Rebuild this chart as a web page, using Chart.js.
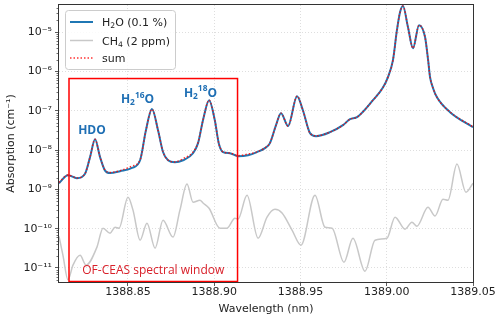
<!DOCTYPE html>
<html>
<head>
<meta charset="utf-8">
<script src="https://cdn.jsdelivr.net/npm/chart.js@4.4.1/dist/chart.umd.min.js"></script>
<style>
  html, body { margin: 0; padding: 0; background: #fff; }
</style>
</head>
<body>
<canvas id="grafica" width="500" height="319"></canvas>
<script>
// Datos
const h2oWl = [
  1388.8100, 1388.8152, 1388.8204, 1388.8251, 1388.8280, 1388.8309, 1388.8338, 1388.8367,
  1388.8396, 1388.8454, 1388.8523, 1388.8570, 1388.8604, 1388.8639, 1388.8674, 1388.8703,
  1388.8732, 1388.8772, 1388.8819, 1388.8877, 1388.8906, 1388.8935, 1388.8970, 1388.9003,
  1388.9026, 1388.9051, 1388.9091, 1388.9138, 1388.9196, 1388.9248, 1388.9294, 1388.9323,
  1388.9358, 1388.9387, 1388.9428, 1388.9480, 1388.9514, 1388.9555, 1388.9590, 1388.9671,
  1388.9746, 1388.9787, 1388.9828, 1388.9920, 1388.9978, 1389.0007, 1389.0036, 1389.0059,
  1389.0077, 1389.0094, 1389.0123, 1389.0152, 1389.0187, 1389.0222, 1389.0240, 1389.0251,
  1389.0268, 1389.0291, 1389.0367, 1389.0500
];
const h2oVals = [
  1.44e-9, 2.3e-9, 1.93e-9, 2.5e-9, 6.6e-9, 1.89e-8, 6.6e-9, 3.0e-9,
  2.6e-9, 2.9e-9, 3.5e-9, 5.5e-9, 3.2e-8, 1.1e-7, 3.2e-8, 8.9e-9,
  5.5e-9, 4.9e-9, 5.5e-9, 8.3e-9, 1.5e-8, 5.8e-8, 1.86e-7, 5.8e-8,
  1.5e-8, 8.9e-9, 8.3e-9, 7.0e-9, 7.4e-9, 8.9e-9, 1.12e-8, 1.5e-8,
  4.3e-8, 8.7e-8, 4.1e-8, 2.35e-7, 1.03e-7, 2.7e-8, 2.26e-8, 2.85e-8,
  4.3e-8, 6.1e-8, 6.9e-8, 1.86e-7, 3.9e-7, 7.2e-7, 1.94e-6, 1.12e-5,
  3.2e-5, 4.6e-5, 1.34e-5, 3.9e-6, 1.5e-5, 7.5e-6, 1.9e-6, 7.2e-7,
  3.8e-7, 2.2e-7, 9.2e-8, 3.8e-8
];
const sumVals = [
  1.5e-9, 2.32e-9, 1.95e-9, 2.52e-9, 6.6e-9, 1.89e-8, 6.6e-9, 3.1e-9,
  2.7e-9, 3.0e-9, 3.9e-9, 5.6e-9, 3.2e-8, 1.1e-7, 3.2e-8, 9.0e-9,
  5.6e-9, 5.0e-9, 6.0e-9, 8.9e-9, 1.55e-8, 5.8e-8, 1.86e-7, 5.8e-8,
  1.5e-8, 9.0e-9, 8.4e-9, 7.2e-9, 7.9e-9, 9.0e-9, 1.14e-8, 1.53e-8,
  4.3e-8, 8.7e-8, 4.1e-8, 2.35e-7, 1.03e-7, 2.7e-8, 2.3e-8, 2.86e-8,
  4.3e-8, 6.1e-8, 6.9e-8, 1.86e-7, 3.9e-7, 7.2e-7, 1.94e-6, 1.12e-5,
  3.2e-5, 4.6e-5, 1.34e-5, 3.9e-6, 1.5e-5, 7.5e-6, 1.9e-6, 7.2e-7,
  3.8e-7, 2.2e-7, 9.3e-8, 3.9e-8
];

const ch4Wl = [
  1388.8100, 1388.8123, 1388.8152, 1388.8181, 1388.8222, 1388.8257, 1388.8320, 1388.8355,
  1388.8396, 1388.8425, 1388.8448, 1388.8500, 1388.8529, 1388.8570, 1388.8610, 1388.8657,
  1388.8703, 1388.8761, 1388.8801, 1388.8842, 1388.8877, 1388.8917, 1388.8935, 1388.8970,
  1388.9033, 1388.9074, 1388.9120, 1388.9138, 1388.9190, 1388.9254, 1388.9306, 1388.9352,
  1388.9393, 1388.9451, 1388.9503, 1388.9584, 1388.9642, 1388.9683, 1388.9752, 1388.9804,
  1388.9874, 1388.9932, 1389.0001, 1389.0048, 1389.0106, 1389.0146, 1389.0175, 1389.0239,
  1389.0280, 1389.0326, 1389.0355, 1389.0407, 1389.0459, 1389.0500
];
const ch4Vals = [
  6.4e-11, 2.1e-11, 5.0e-12, 1.18e-11, 2.1e-11, 1.18e-11, 3.4e-11, 1.03e-10,
  7.7e-11, 1.09e-10, 1.03e-10, 6.3e-10, 2.96e-10, 5.1e-11, 1.38e-10, 3.2e-11,
  1.64e-10, 6.1e-11, 2.96e-10, 1.36e-9, 4.7e-10, 5.3e-10, 4.5e-10, 3.3e-10,
  1.03e-10, 1.03e-10, 1.85e-10, 1.75e-10, 7.1e-10, 5.7e-11, 1.96e-10, 3.1e-10,
  2.5e-10, 9.2e-11, 3.8e-11, 7.1e-10, 1.09e-10, 1.03e-10, 1.4e-11, 5.7e-11,
  8.3e-12, 5.1e-11, 5.7e-11, 1.96e-10, 9.7e-11, 1.46e-10, 1.16e-10, 3.5e-10,
  2.1e-10, 5.6e-10, 5.3e-10, 4.4e-9, 8.5e-10, 1.44e-9
];

const xTicks = [1388.85, 1388.90, 1388.95, 1389.00, 1389.05];
const yTicks = [1e-11, 1e-10, 1e-9, 1e-8, 1e-7, 1e-6, 1e-5];

// ventana espectral OF-CEAS
const windowStart = 1388.8158;
const windowEnd = 1388.9135;
const windowTop = 6.6e-7;

// etiquetas de picos
const peakLabels = [
  [{ t: "HDO" }],
  [{ t: "H" }, { t: "2", sub: true }, { t: "16", sup: true }, { t: "O" }],
  [{ t: "H" }, { t: "2", sub: true }, { t: "18", sup: true }, { t: "O" }]
];
const peakLabelX = [1388.8291, 1388.8555, 1388.8920];
const peakLabelY = [2.6e-8, 1.6e-7, 2.3e-7];

const legendLabels = [
  [{ t: "H" }, { t: "2", sub: true }, { t: "O (0.1 %)" }],
  [{ t: "CH" }, { t: "4", sub: true }, { t: " (2 ppm)" }],
  [{ t: "sum" }]
];

const azul = "#1f77b4";
const gris = "#c8c8c8";
const rojo = "rgba(255, 0, 0, 0.8)";

const supMap = { "-": "\u207b", "0": "\u2070", "1": "\u00b9", "2": "\u00b2", "3": "\u00b3",
  "4": "\u2074", "5": "\u2075", "6": "\u2076", "7": "\u2077", "8": "\u2078", "9": "\u2079" };

function pares(xs, ys) {
  return xs.map((x, i) => ({ x: x, y: ys[i] }));
}

/* texto con sub/superíndices */
function medirRich(ctx, segs, size, family, weight) {
  let w = 0;
  segs.forEach(s => {
    const fs = (s.sub || s.sup) ? size * 0.7 : size;
    ctx.font = weight + " " + fs + "px " + family;
    w += ctx.measureText(s.t).width;
  });
  return w;
}

function dibujarRich(ctx, segs, x, y, size, family, weight, color, align) {
  let cx = x;
  if (align === "center") cx = x - medirRich(ctx, segs, size, family, weight) / 2;
  ctx.fillStyle = color;
  ctx.textBaseline = "alphabetic";
  ctx.textAlign = "left";
  segs.forEach(s => {
    const fs = (s.sub || s.sup) ? size * 0.7 : size;
    ctx.font = weight + " " + fs + "px " + family;
    let dy = 0;
    if (s.sub) dy = size * 0.22;
    if (s.sup) dy = -size * 0.42;
    ctx.fillText(s.t, cx, y + dy);
    cx += ctx.measureText(s.t).width;
  });
}

const extras = {
  id: "extras",
  afterDatasetsDraw(chart) {
    const ctx = chart.ctx;
    const xs = chart.scales.x;
    const ys = chart.scales.y;
    const area = chart.chartArea;

    // rectángulo rojo
    const x1 = xs.getPixelForValue(windowStart);
    const x2 = xs.getPixelForValue(windowEnd);
    const y1 = ys.getPixelForValue(windowTop);
    ctx.save();
    ctx.strokeStyle = "#ff0000";
    ctx.lineWidth = 1.5;
    ctx.strokeRect(x1, y1, x2 - x1, area.bottom - 0.5 - y1);

    ctx.font = "12px 'Open Sans'";
    ctx.fillStyle = "#d9202a";
    ctx.textAlign = "center";
    ctx.textBaseline = "alphabetic";
    ctx.fillText("OF-CEAS spectral window", (x1 + x2) / 2, area.bottom - 8);

    // etiquetas de picos
    peakLabels.forEach((segs, i) => {
      const px = xs.getPixelForValue(peakLabelX[i]);
      const py = ys.getPixelForValue(peakLabelY[i]);
      dibujarRich(ctx, segs, px, py, 12, "'Open Sans'", "bold", "#1f6fb4", "center");
    });
    ctx.restore();
  },
  afterDraw(chart) {
    const ctx = chart.ctx;
    const ys = chart.scales.y;
    const area = chart.chartArea;
    ctx.save();

    // marco
    ctx.strokeStyle = "#333";
    ctx.lineWidth = 1;
    ctx.strokeRect(area.left - 0.5, area.top - 0.5, area.right - area.left + 1, area.bottom - area.top + 1);

    // ticks menores del eje y
    ctx.lineWidth = 0.7;
    for (let n = -12; n <= -5; n++) {
      for (let k = 2; k <= 9; k++) {
        const v = k * Math.pow(10, n);
        if (v < ys.min || v > ys.max) continue;
        const py = Math.round(ys.getPixelForValue(v)) + 0.5;
        ctx.beginPath();
        ctx.moveTo(area.left - 2.5, py);
        ctx.lineTo(area.left, py);
        ctx.stroke();
      }
    }

    // leyenda
    const lx = 65, ly = 10, lw = 110, lh = 59;
    ctx.fillStyle = "rgba(255,255,255,0.85)";
    ctx.strokeStyle = "#cccccc";
    ctx.lineWidth = 1;
    ctx.beginPath();
    ctx.roundRect(lx + 0.5, ly + 0.5, lw, lh, 3);
    ctx.fill();
    ctx.stroke();

    const rows = [22, 40.5, 58];
    chart.data.datasets.forEach((ds, i) => {
      ctx.strokeStyle = ds.borderColor;
      ctx.lineWidth = ds.borderWidth;
      ctx.setLineDash(ds.borderDash || []);
      ctx.beginPath();
      ctx.moveTo(70, rows[i]);
      ctx.lineTo(93, rows[i]);
      ctx.stroke();
      ctx.setLineDash([]);
      dibujarRich(ctx, legendLabels[i], 102, rows[i] + 4, 11, "'DejaVu Sans'", "normal", "#222", "left");
    });
    ctx.restore();
  }
};

const ctx = document.getElementById("grafica");

new Chart(ctx, {
  type: "line",
  data: {
    datasets: [
      {
        label: "H2O (0.1 %)",
        data: pares(h2oWl, h2oVals),
        borderColor: azul,
        borderWidth: 2,
        pointRadius: 0,
        cubicInterpolationMode: "monotone",
        order: 3
      },
      {
        label: "CH4 (2 ppm)",
        data: pares(ch4Wl, ch4Vals),
        borderColor: gris,
        borderWidth: 1.5,
        pointRadius: 0,
        cubicInterpolationMode: "monotone",
        order: 2
      },
      {
        label: "sum",
        data: pares(h2oWl, sumVals),
        borderColor: rojo,
        borderWidth: 1.5,
        borderDash: [1.5, 2],
        pointRadius: 0,
        cubicInterpolationMode: "monotone",
        order: 1
      }
    ]
  },
  options: {
    responsive: false,
    animation: false,
    devicePixelRatio: 1,
    layout: { padding: { top: 5, right: 27, left: 0, bottom: 0 } },
    plugins: {
      legend: { display: false },
      tooltip: { enabled: false }
    },
    scales: {
      x: {
        type: "linear",
        min: 1388.81,
        max: 1389.05,
        afterBuildTicks: s => { s.ticks = xTicks.map(v => ({ value: v })); },
        afterFit: s => { s.height = 37; s.paddingLeft = 0; s.paddingRight = 0; },
        ticks: {
          callback: v => v.toFixed(2),
          maxRotation: 0,
          autoSkip: false,
          color: "#222",
          padding: 0,
          font: { family: "DejaVu Sans", size: 11 }
        },
        grid: { color: "#d5d5d5", lineWidth: 0.8, tickColor: "#333", tickLength: 4 },
        border: { display: false, dash: [1, 2] },
        title: {
          display: true,
          text: "Wavelength (nm)",
          color: "#222",
          font: { family: "DejaVu Sans", size: 11 },
          padding: { top: 0, bottom: 3 }
        }
      },
      y: {
        type: "logarithmic",
        min: 4.4e-12,
        max: 4.9e-5,
        afterBuildTicks: s => { s.ticks = yTicks.map(v => ({ value: v })); },
        afterFit: s => { s.width = 59; s.paddingTop = 0; s.paddingBottom = 0; },
        ticks: {
          callback: v => "10" + String(Math.round(Math.log10(v))).split("").map(c => supMap[c]).join(""),
          color: "#222",
          padding: 3,
          font: { family: "DejaVu Sans", size: 11 }
        },
        grid: { color: "#d5d5d5", lineWidth: 0.8, tickColor: "#333", tickLength: 4 },
        border: { display: false, dash: [1, 2] },
        title: {
          display: true,
          text: "Absorption (cm\u207b\u00b9)",
          color: "#222",
          font: { family: "DejaVu Sans", size: 11 },
          padding: { top: 5, bottom: 0 }
        }
      }
    }
  },
  plugins: [extras]
});
</script>
</body>
</html>
